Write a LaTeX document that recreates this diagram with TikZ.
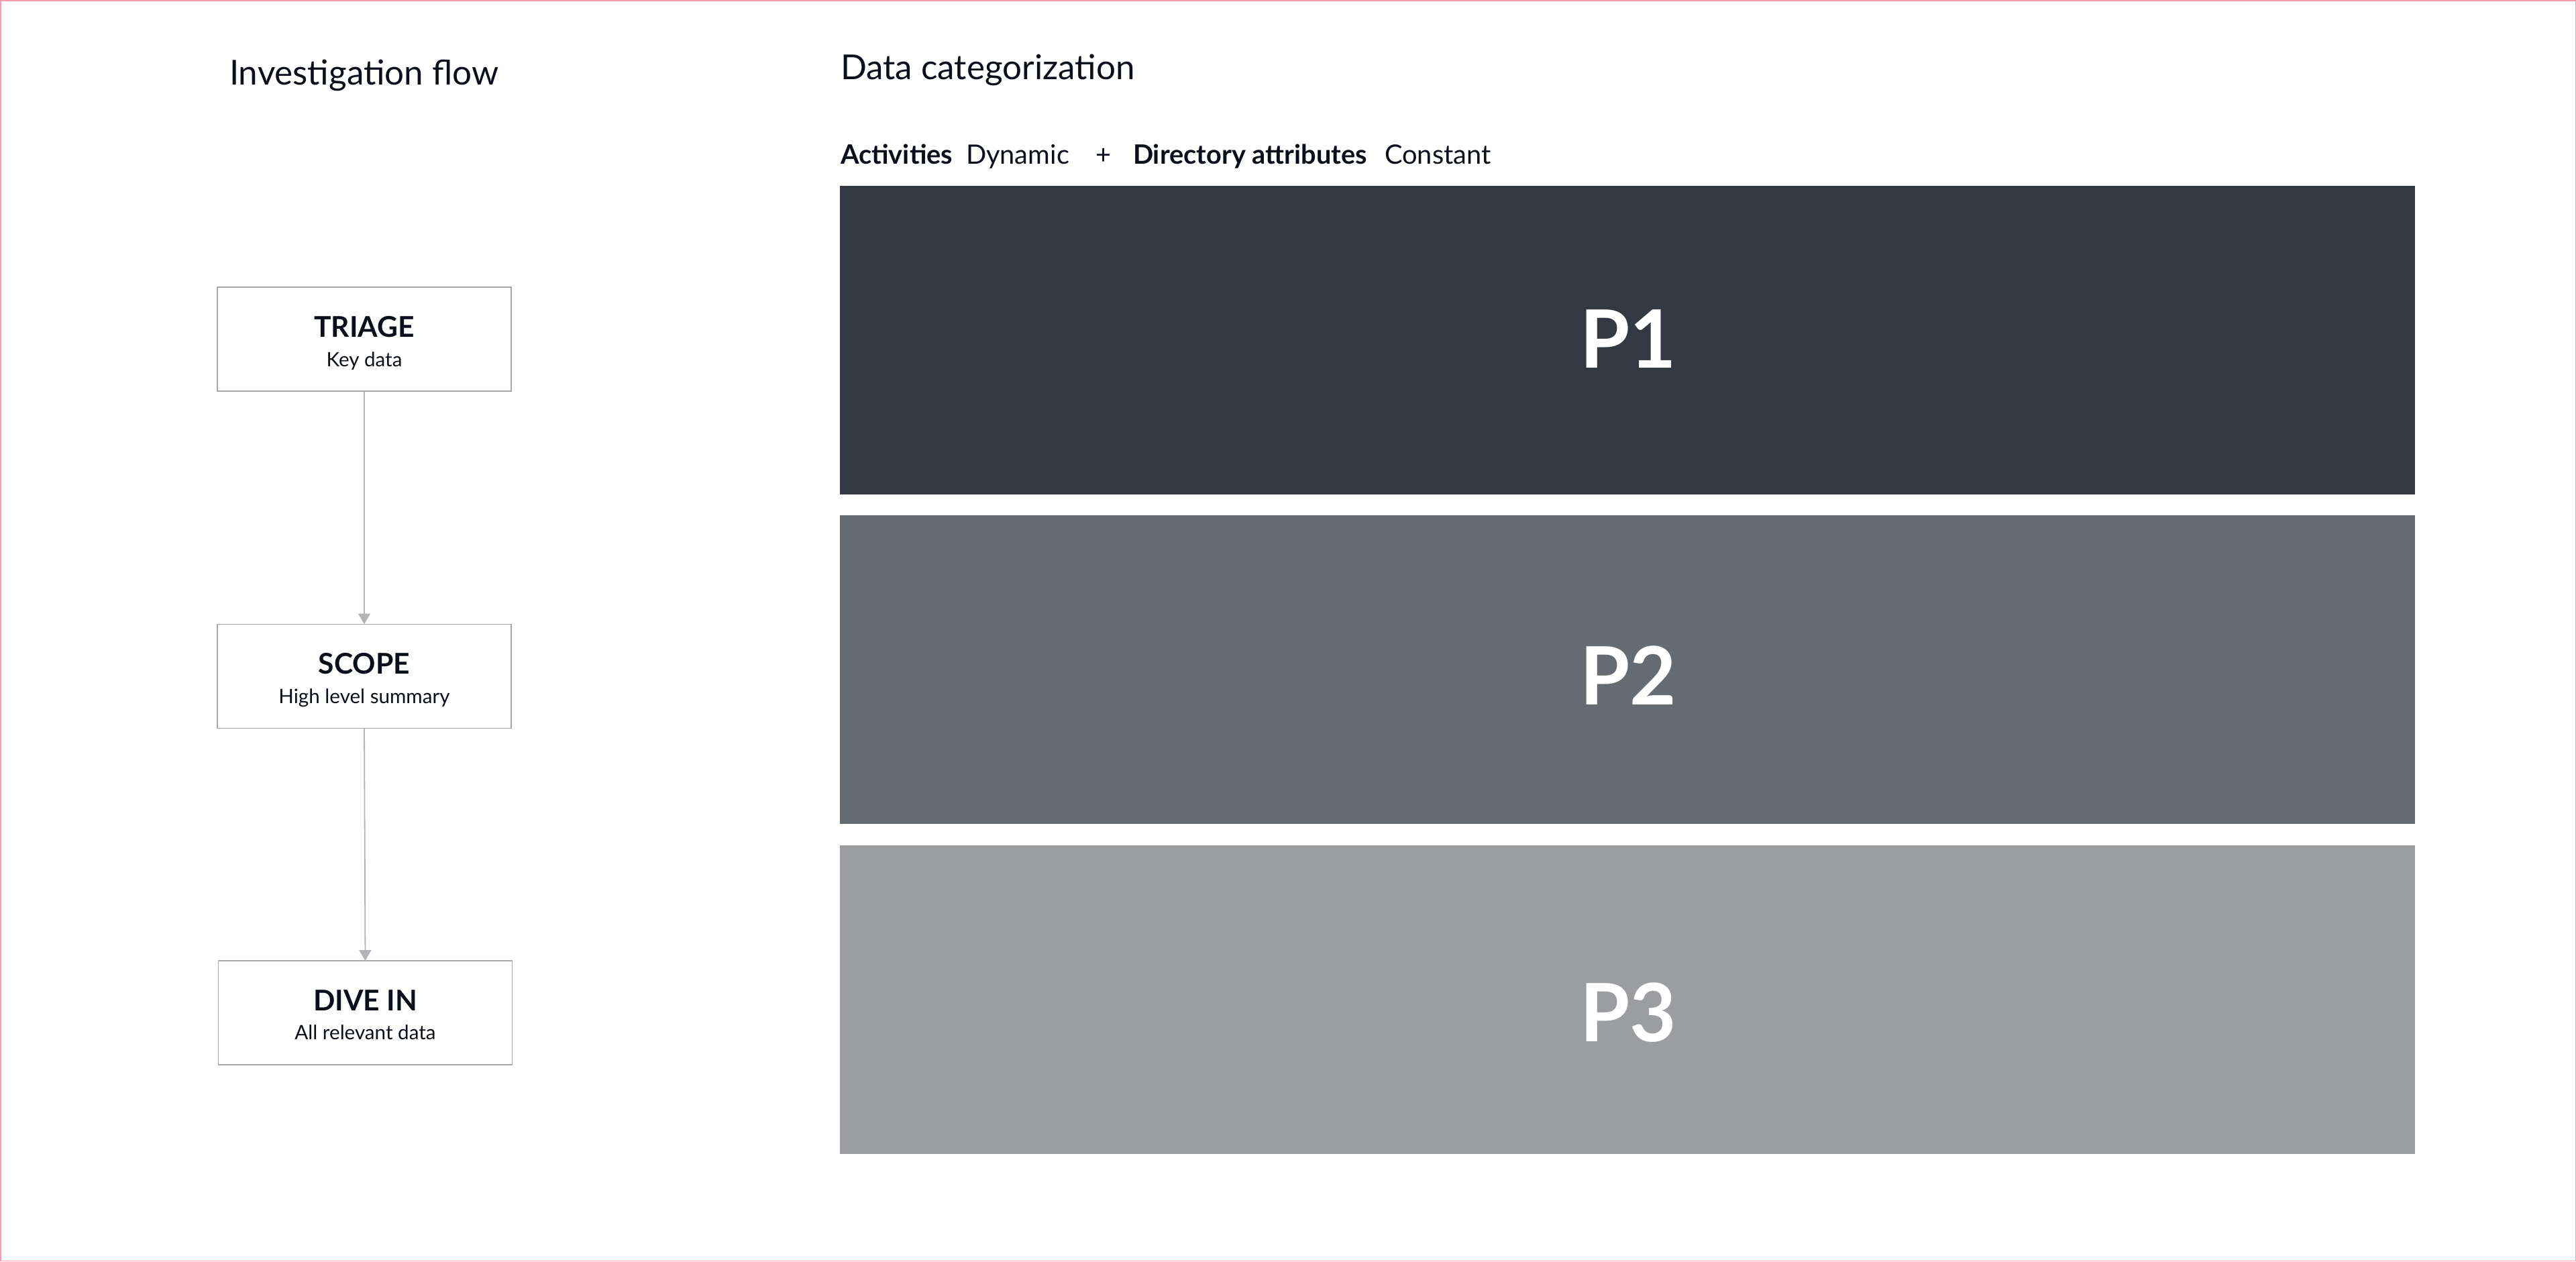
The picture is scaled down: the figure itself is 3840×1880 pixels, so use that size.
\documentclass[tikz,border=0pt]{standalone}
\usepackage{fontspec}
\setmainfont{Lato}
\usetikzlibrary{arrows.meta}
\definecolor{ink}{HTML}{0B0F1B}
\definecolor{pone}{HTML}{333843}
\definecolor{ptwo}{HTML}{666A73}
\definecolor{pthree}{HTML}{9B9DA1}
\definecolor{boxedge}{HTML}{A8A8A8}
\definecolor{arrowc}{HTML}{B3B4B8}
\definecolor{framec}{HTML}{FF99AE}
\begin{document}
\begin{tikzpicture}[x=0.5pt,y=-0.5pt,
  heading/.style={anchor=base west, inner sep=0pt, outer sep=0pt, text=ink, font=\fontsize{25.6pt}{30pt}\selectfont},
  rowbold/.style={anchor=base west, inner sep=0pt, outer sep=0pt, text=ink, font=\fontsize{19.9pt}{24pt}\selectfont\bfseries},
  rowreg/.style={anchor=base west, inner sep=0pt, outer sep=0pt, text=ink, font=\fontsize{19.9pt}{24pt}\selectfont},
  flowbox/.style={draw=boxedge, line width=0.6pt, minimum width=219pt, minimum height=77.5pt, inner sep=0pt, outer sep=0pt},
  ftitle/.style={anchor=base, inner sep=0pt, outer sep=0pt, text=ink, font=\fontsize{21.3pt}{25pt}\selectfont\bfseries},
  fsub/.style={anchor=base, inner sep=0pt, outer sep=0pt, text=ink, font=\fontsize{14.8pt}{18pt}\selectfont},
  pband/.style={minimum width=1174pt, minimum height=230pt, inner sep=0pt, outer sep=0pt},
  plabel/.style={inner sep=0pt, outer sep=0pt, anchor=base, text=white, font=\fontsize{60pt}{64pt}\selectfont\bfseries},
  flowarrow/.style={draw=arrowc, line width=0.9pt, -{Triangle[length=8pt,width=9pt]}}
]
\useasboundingbox (0,0) rectangle (3840,1880);
\draw[framec, line width=0.75pt] (0.75,0.75) rectangle (3839.25,1879.25);

% headings
\node[heading] (h1) at (342,126) {Investigation flow};
\node[heading] (h2) at (1253,118) {Data categorization};

% legend row
\node[rowbold] (r1) at (1253,244) {Activities};
\node[rowreg]  (r2) at (1440,244) {Dynamic};
\node[rowreg]  (r3) at (1633,244) {+};
\node[rowbold] (r4) at (1689,244) {Directory attributes};
\node[rowreg]  (r5) at (2064,244) {Constant};

% flow boxes
\node[flowbox] (b1) at (543,505.5) {};
\node[flowbox] (b2) at (543,1008) {};
\node[flowbox] (b3) at (544.5,1509.5) {};

\node[ftitle] (t1) at (543,502) {TRIAGE};
\node[fsub]   (s1) at (543,546) {Key data};
\node[ftitle] (t2) at (543,1004) {SCOPE};
\node[fsub]   (s2) at (543,1048) {High level summary};
\node[ftitle] (t3) at (544.5,1506) {DIVE IN};
\node[fsub]   (s3) at (544.5,1549) {All relevant data};

\draw[flowarrow] (b1.south) -- (b2.north);
\draw[flowarrow] (b2.south) -- (b3.north);

% priority bands
\node[pband, fill=pone]   (p1) at (2426,506.5) {};
\node[pband, fill=ptwo]   (p2) at (2426,998)   {};
\node[pband, fill=pthree] (p3) at (2426,1490)  {};
\node[plabel] (l1) at (2427,548)  {P1};
\node[plabel] (l2) at (2427,1050) {P2};
\node[plabel] (l3) at (2427,1552) {P3};
\end{tikzpicture}
\end{document}
